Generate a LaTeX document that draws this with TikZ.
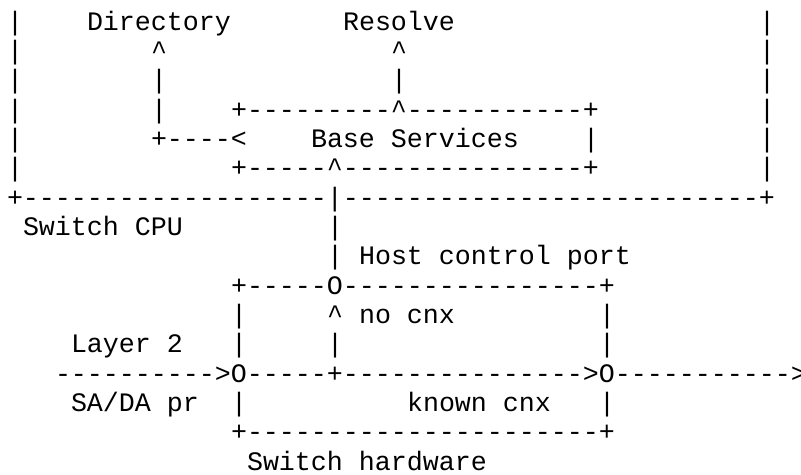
\documentclass[tikz,border=0pt]{standalone}
\usepackage{fontspec}
\setmonofont{Liberation Mono}
\begin{document}
\begin{tikzpicture}[x=8pt, y=-14.675pt,
    txt/.style={anchor=base west, inner sep=0pt, outer sep=0pt,
      font=\ttfamily\fontsize{13.33}{14.675}\selectfont}]
  \useasboundingbox (-0.4375,-1.022) rectangle (49.625,15.128);
  % switch CPU frame
  \foreach \r in {0,...,5} {
    \node[txt] (lbar\r) at (0,\r) {|};
    \node[txt] (rbar\r) at (47,\r) {|};
  }
  \node[txt] (cpubot) at (0,6) {+-------------------|--------------------------+};
  \node[txt] (cpu) at (1,7) {Switch CPU};
  % services
  \node[txt] (dir) at (5,0) {Directory};
  \node[txt] (res) at (21,0) {Resolve};
  \node[txt] (dirup) at (9,1) {\textasciicircum};
  \node[txt] (resup) at (24,1) {\textasciicircum};
  \node[txt] (dirv2) at (9,2) {|};
  \node[txt] (resv) at (24,2) {|};
  \node[txt] (dirv3) at (9,3) {|};
  \node[txt] (basetop) at (14,3) {+---------\textasciicircum-----------+};
  \node[txt] (dirlink) at (9,4) {+----<};
  \node[txt] (base) at (19,4) {Base Services};
  \node[txt] (baseright) at (36,4) {|};
  \node[txt] (basebot) at (14,5) {+-----\textasciicircum---------------+};
  % host control port
  \node[txt] (portv7) at (20,7) {|};
  \node[txt] (portv8) at (20,8) {|};
  \node[txt] (host) at (22,8) {Host control port};
  % switch hardware
  \node[txt] (hwtop) at (14,9) {+-----O----------------+};
  \node[txt] (hwl10) at (14,10) {|};
  \node[txt] (nocnxup) at (20,10) {\textasciicircum};
  \node[txt] (nocnx) at (22,10) {no cnx};
  \node[txt] (hwr10) at (37,10) {|};
  \node[txt] (layer) at (4,11) {Layer 2};
  \node[txt] (hwl11) at (14,11) {|};
  \node[txt] (nocnxv) at (20,11) {|};
  \node[txt] (hwr11) at (37,11) {|};
  \node[txt] (flow) at (3,12) {---------->O-----+--------------->O----------->};
  \node[txt] (sada) at (4,13) {SA/DA pr};
  \node[txt] (hwl13) at (14,13) {|};
  \node[txt] (known) at (25,13) {known cnx};
  \node[txt] (hwr13) at (37,13) {|};
  \node[txt] (hwbot) at (14,14) {+----------------------+};
  \node[txt] (hw) at (15,15) {Switch hardware};
\end{tikzpicture}
\end{document}
